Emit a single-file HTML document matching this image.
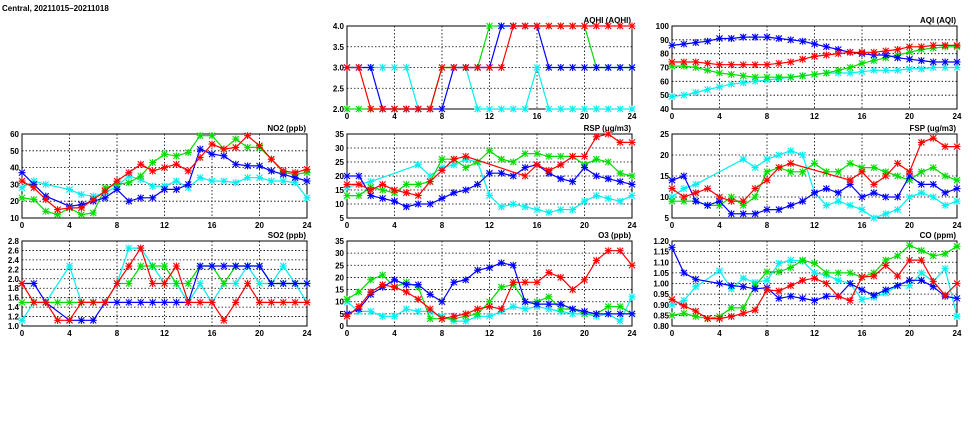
<!DOCTYPE html>
<html><head><meta charset="utf-8"><style>
body{margin:0;background:#fff;width:975px;height:447px;overflow:hidden}
svg{position:absolute;left:0;top:0}
text{font-family:"Liberation Sans","DejaVu Sans",sans-serif;font-size:8px;font-weight:bold;fill:#000}
</style></head><body>
<svg id="c" width="975" height="447">
<text x="2" y="11" font-size="10.5" font-weight="normal">Central, 20211015–20211018</text>
</svg>
<script>
const hours=[0,1,2,3,4,5,6,7,8,9,10,11,12,13,14,15,16,17,18,19,20,21,22,23,24];
const N=null;
const aqhiRed=[3,3,2,2,2,2,2,2,3,3,3,3,3,3,4,4,4,4,4,4,4,4,4,4,4];
const aqhiBlue=[3,3,3,2,2,2,2,2,2,3,3,3,3,4,4,4,4,3,3,3,3,3,3,3,3];
const aqhiGreen=[2,2,2,2,2,2,2,2,3,3,3,3,4,4,4,4,4,4,4,4,4,3,3,3,3];
const aqhiCyan=[3,3,3,3,3,3,2,2,3,3,3,2,2,2,2,2,3,2,2,2,2,2,2,2,2];
const aqiBlue=[86,87,88,89,91,91,92,92,92,91,90,89,87,85,83,81,80,79,79,77,76,75,74,74,74];
const aqiRed=[74,74,74,73,72,72,72,72,72,73,74,76,78,79,80,81,81,81,82,83,85,85,86,86,86];
const aqiGreen=[71,71,70,68,66,65,64,63,63,63,63,64,65,66,68,70,73,75,77,79,81,83,84,85,85];
const aqiCyan=[49,50,52,54,56,58,59,60,61,62,63,64,65,66,66,66,67,68,68,68,69,69,70,70,70];
const no2Green=[22,21,14,12,16,12,13,28,30,31,35,43,48,47,49,59,59,51,57,52,52,45,37,36,37];
const no2Red=[32,28,21,15,16,16,21,26,32,37,42,38,40,42,38,46,54,51,52,59,53,45,38,37,39];
const no2Blue=[37,30,23,N,17,18,20,22,27,20,22,22,27,27,30,51,48,47,42,41,41,38,36,34,32];
const no2Cyan=[28,32,30,N,27,24,23,25,29,35,33,29,29,32,28,34,32,32,31,34,34,32,32,31,22];
const rspRed=[17,17,15,17,15,14,13,18,22,26,27,N,N,N,N,20,24,22,24,27,27,34,35,32,32];
const rspGreen=[13,13,16,15,14,17,17,18,26,26,23,25,29,26,25,28,28,27,27,27,24,26,25,21,20];
const rspBlue=[20,20,13,12,11,9,10,10,12,14,15,17,21,21,20,23,24,21,19,18,23,20,19,18,17];
const rspCyan=[16,N,18,N,N,N,24,20,23,24,26,25,13,9,10,9,8,7,8,8,11,13,12,11,13];
const fspRed=[12,10,11,12,10,9,9,12,14,17,18,N,N,N,N,14,16,13,15,18,16,23,24,22,22];
const fspGreen=[9,9,9,8,8,10,8,10,16,17,16,16,18,16,16,18,17,17,16,15,14,16,17,15,14];
const fspBlue=[14,15,9,8,9,6,6,6,7,7,8,9,11,12,11,13,10,11,10,10,15,13,13,11,12];
const fspCyan=[10,12,13,N,N,N,19,17,19,20,21,20,11,8,9,8,7,5,6,7,10,11,10,8,9];
const so2Cyan=[1.12,1.5,1.5,N,2.27,1.5,1.5,1.5,1.9,2.65,2.65,2.27,1.9,1.9,1.5,1.9,1.5,1.9,1.9,2.27,1.9,1.9,2.27,1.9,1.5];
const so2Green=[1.5,1.5,1.5,1.5,1.5,1.5,1.5,1.5,1.9,1.9,2.27,2.27,2.27,1.9,1.9,2.27,2.27,1.9,2.27,2.27,2.27,1.9,1.9,1.9,1.9];
const so2Blue=[1.9,1.9,1.5,N,1.12,1.12,1.12,1.5,1.5,1.5,1.5,1.5,1.5,1.5,1.5,2.27,2.27,2.27,2.27,2.27,2.27,1.9,1.9,1.9,1.9];
const so2Red=[1.9,1.5,1.5,1.12,1.12,1.5,1.5,1.5,1.9,2.27,2.65,1.9,1.9,2.27,1.5,1.5,1.5,1.12,1.5,1.9,1.5,1.5,1.5,1.5,1.5];
const o3Blue=[5,7,13,16,19,17,17,13,10,18,19,23,24,26,25,10,9,9,9,7,6,5,5,5,5];
const o3Red=[4,8,14,17,16,14,11,7,3,4,5,7,8,7,18,18,18,22,20,15,19,27,31,31,25];
const o3Green=[11,14,19,21,16,18,16,3,3,3,4,5,10,16,17,10,10,12,7,7,5,5,8,8,5];
const o3Cyan=[10,6,6,4,4,7,6,6,4,2,2,4,4,6,8,7,8,7,6,5,5,4,5,2,12];
const coBlue=[1.17,1.05,1.02,N,1.00,0.99,0.985,0.975,0.98,0.93,0.94,0.93,0.92,0.94,0.94,1.00,0.97,0.945,0.97,0.99,1.015,1.015,0.985,0.94,0.93];
const coRed=[0.925,0.895,0.87,0.835,0.835,0.845,0.86,0.875,0.97,0.965,0.99,1.015,1.025,1.00,0.94,0.92,1.03,1.035,1.085,1.035,1.11,1.11,1.01,0.945,1.00];
const coGreen=[0.85,0.86,0.845,0.835,0.845,0.885,0.885,0.99,1.055,1.055,1.075,1.11,1.095,1.05,1.05,1.05,1.03,1.05,1.11,1.13,1.18,1.155,1.13,1.14,1.175];
const coCyan=[0.90,0.92,0.985,N,1.06,0.975,1.025,1.005,1.015,1.095,1.11,1.105,1.05,1.04,1.015,1.00,0.925,0.935,0.955,0.99,0.99,1.05,1.01,1.07,0.845];
const xTicks=[0,4,8,12,16,20,24];

const C={cyan:'#00f0f0',green:'#00dd00',blue:'#0000ff',red:'#ff0000'};
const cols=[22,347,672], rows=[26,134,241], W=285, H=[83,84,85];
const panels=[
 {name:'aqhi',title:'AQHI (AQHI)',c:1,r:0,min:2,max:4,step:0.5,dec:1,s:[['cyan',aqhiCyan],['green',aqhiGreen],['blue',aqhiBlue],['red',aqhiRed]]},
 {name:'aqi',title:'AQI (AQI)',c:2,r:0,min:40,max:100,step:10,dec:0,s:[['cyan',aqiCyan],['green',aqiGreen],['blue',aqiBlue],['red',aqiRed]]},
 {name:'no2',title:'NO2 (ppb)',c:0,r:1,min:10,max:60,step:10,dec:0,s:[['cyan',no2Cyan],['green',no2Green],['blue',no2Blue],['red',no2Red]]},
 {name:'rsp',title:'RSP (ug/m3)',c:1,r:1,min:5,max:35,step:5,dec:0,s:[['cyan',rspCyan],['green',rspGreen],['blue',rspBlue],['red',rspRed]]},
 {name:'fsp',title:'FSP (ug/m3)',c:2,r:1,min:5,max:25,step:5,dec:0,s:[['cyan',fspCyan],['green',fspGreen],['blue',fspBlue],['red',fspRed]]},
 {name:'so2',title:'SO2 (ppb)',c:0,r:2,min:1,max:2.8,step:0.2,dec:1,s:[['cyan',so2Cyan],['green',so2Green],['blue',so2Blue],['red',so2Red]]},
 {name:'o3',title:'O3 (ppb)',c:1,r:2,min:0,max:35,step:5,dec:0,s:[['cyan',o3Cyan],['green',o3Green],['blue',o3Blue],['red',o3Red]]},
 {name:'co',title:'CO (ppm)',c:2,r:2,min:0.8,max:1.2,step:0.05,dec:2,s:[['cyan',coCyan],['green',coGreen],['blue',coBlue],['red',coRed]]}
];
const svg=document.getElementById('c');
const NS='http://www.w3.org/2000/svg';
function mk(tag,attrs,parent){const e=document.createElementNS(NS,tag);for(const k in attrs)e.setAttribute(k,attrs[k]);parent.appendChild(e);return e;}
panels.forEach(p=>{
 const x0=cols[p.c], y0=rows[p.r], h=H[p.r];
 const g=mk('g',{},svg);
 
 
 const X=v=>x0+v/24*W;
 const Y=v=>y0+h-(v-p.min)/(p.max-p.min)*h;
 const t=mk('text',{x:x0+W-1,y:y0-3,'text-anchor':'end','font-family':'Liberation Mono, monospace','font-size':'9'},g);
 t.textContent=p.title;
 
 
 const n=Math.round((p.max-p.min)/p.step);
 for(let i=0;i<=n;i++){
  const v=p.min+i*p.step, y=Y(v);
  if(i>0&&i<n){const gl=mk('line',{x1:x0,x2:x0+W,y1:y,y2:y,stroke:'#000','stroke-width':0.8,'stroke-dasharray':'1.5,2'},g);
   }
  const lt=mk('text',{x:x0-3,y:y+3,'text-anchor':'end'},g);
  lt.textContent=v.toFixed(p.dec);
  
  
 }
 xTicks.forEach(v=>{
  const x=X(v);
  if(v>0&&v<24){const gl=mk('line',{x1:x,x2:x,y1:y0,y2:y0+h,stroke:'#000','stroke-width':0.8,'stroke-dasharray':'1.5,2'},g);
   }
  const lt=mk('text',{x:x,y:y0+h+10,'text-anchor':'middle'},g);
  lt.textContent=v;
  
  
 });
 const fr=mk('rect',{x:x0,y:y0,width:W,height:h,fill:'none',stroke:'#000','stroke-width':1},g);
 
 
 p.s.forEach(([col,arr])=>{
  const pts=[];
  arr.forEach((v,i)=>{if(v!==null)pts.push([X(hours[i]),Y(v)]);});
  const pl=mk('polyline',{points:pts.map(q=>q[0].toFixed(1)+','+q[1].toFixed(1)).join(' '),fill:'none',stroke:C[col],'stroke-width':1.2},g);
  
  
  pts.forEach(([x,y])=>{
   const m=mk('path',{d:`M${x-3},${y-3}L${x+3},${y+3}M${x-3},${y+3}L${x+3},${y-3}M${x-3.5},${y}L${x+3.5},${y}M${x},${y-3.5}L${x},${y+3.5}`,stroke:C[col],'stroke-width':1.1,fill:'none'},g);
   
   
  });
 });
});
</script>
</body></html>
